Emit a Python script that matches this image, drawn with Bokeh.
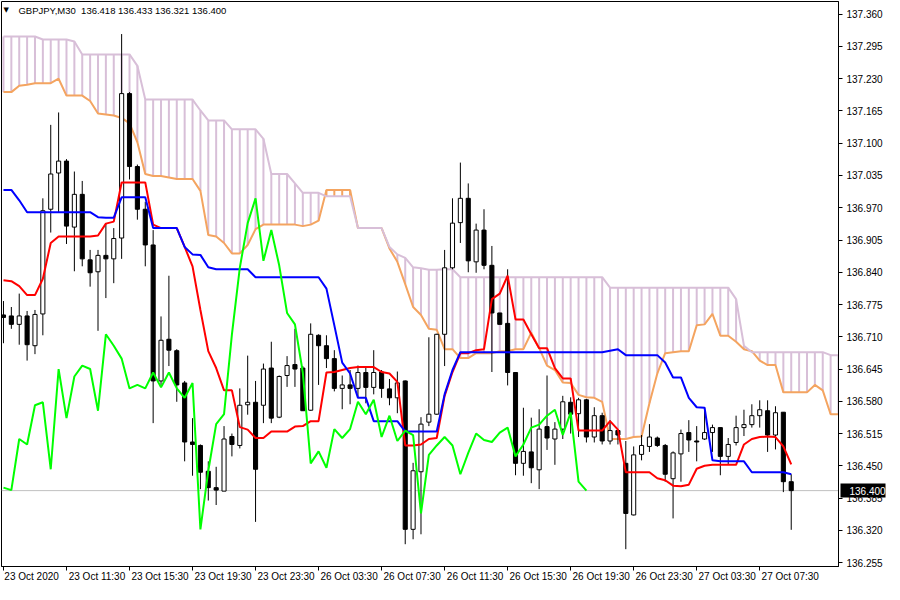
from bokeh.plotting import figure
from bokeh.models import (Range1d, LinearAxis, FixedTicker, Label, Span, ColumnDataSource,
                          PrintfTickFormatter, CustomJSTickFormatter)
from bokeh.embed import file_html
from bokeh.resources import INLINE

# ---------------- data (GBPJPY, M30) ----------------
open_ = [136.754, 136.752, 136.735, 136.752, 136.692, 136.756, 136.967, 137.040, 137.064, 136.931,
         136.997, 136.865, 136.841, 136.874, 136.867, 136.909, 137.200, 137.053, 136.967, 136.895,
         136.621, 136.705, 136.682, 136.617, 136.498, 136.491, 136.439, 136.406, 136.399, 136.509,
         136.491, 136.573, 136.578, 136.572, 136.647, 136.548, 136.632, 136.654, 136.647, 136.562,
         136.713, 136.692, 136.666, 136.606, 136.613, 136.606, 136.638, 136.608, 136.639, 136.605,
         136.587, 136.621, 136.322, 136.438, 136.538, 136.554, 136.715, 136.849, 136.940, 136.989,
         136.861, 136.925, 136.854, 136.758, 136.737, 136.638, 136.455, 136.478, 136.442, 136.529,
         136.504, 136.524, 136.578, 136.555, 136.583, 136.508, 136.551, 136.500, 136.521, 136.455,
         136.351, 136.473, 136.489, 136.506, 136.491, 136.424, 136.474, 136.517, 136.500, 136.504,
         136.517, 136.527, 136.469, 136.497, 136.527, 136.533, 136.551, 136.561, 136.512, 136.558,
         136.418]
high = [136.782, 136.770, 136.797, 136.762, 136.764, 136.989, 137.137, 137.162, 137.068, 137.043,
        137.024, 136.885, 136.885, 136.938, 136.929, 137.320, 137.203, 137.057, 136.982, 136.925,
        136.751, 136.833, 136.685, 136.621, 136.546, 136.493, 136.459, 136.448, 136.530, 136.515,
        136.606, 136.672, 136.621, 136.656, 136.700, 136.632, 136.671, 136.726, 136.651, 136.737,
        136.715, 136.713, 136.683, 136.632, 136.643, 136.652, 136.648, 136.683, 136.643, 136.625,
        136.640, 136.622, 136.456, 136.548, 136.709, 136.716, 136.885, 136.989, 137.061, 137.019,
        136.938, 136.967, 136.893, 136.758, 136.846, 136.638, 136.567, 136.547, 136.564, 136.632,
        136.538, 136.591, 136.588, 136.587, 136.585, 136.568, 136.557, 136.542, 136.523, 136.500,
        136.489, 136.512, 136.534, 136.509, 136.494, 136.479, 136.523, 136.542, 136.530, 136.568,
        136.533, 136.527, 136.506, 136.551, 136.563, 136.574, 136.582, 136.582, 136.570, 136.558,
        136.433]
low = [136.697, 136.726, 136.694, 136.662, 136.675, 136.713, 136.920, 136.961, 136.897, 136.842,
       136.852, 136.811, 136.722, 136.788, 136.818, 136.867, 137.027, 136.946, 136.852, 136.536,
       136.609, 136.651, 136.579, 136.459, 136.430, 136.403, 136.380, 136.371, 136.399, 136.469,
       136.485, 136.553, 136.337, 136.536, 136.536, 136.546, 136.609, 136.609, 136.561, 136.561,
       136.613, 136.647, 136.600, 136.564, 136.574, 136.587, 136.576, 136.594, 136.587, 136.572,
       136.556, 136.292, 136.302, 136.312, 136.530, 136.553, 136.651, 136.846, 136.899, 136.840,
       136.839, 136.846, 136.639, 136.735, 136.612, 136.431, 136.430, 136.415, 136.403, 136.482,
       136.452, 136.504, 136.515, 136.508, 136.497, 136.497, 136.493, 136.493, 136.493, 136.282,
       136.350, 136.461, 136.478, 136.488, 136.418, 136.344, 136.418, 136.478, 136.459, 136.502,
       136.478, 136.431, 136.452, 136.491, 136.510, 136.527, 136.527, 136.478, 136.483, 136.397,
       136.321]
close = [136.749, 136.735, 136.752, 136.694, 136.755, 136.964, 137.038, 137.064, 136.933, 136.997,
         136.867, 136.839, 136.874, 136.867, 136.908, 137.200, 137.053, 136.967, 136.895, 136.621,
         136.703, 136.683, 136.613, 136.498, 136.493, 136.437, 136.406, 136.401, 136.504, 136.493,
         136.572, 136.578, 136.443, 136.645, 136.546, 136.630, 136.652, 136.645, 136.561, 136.715,
         136.692, 136.666, 136.606, 136.613, 136.606, 136.638, 136.608, 136.638, 136.606, 136.587,
         136.617, 136.322, 136.440, 136.534, 136.554, 136.715, 136.849, 136.939, 136.989, 136.863,
         136.925, 136.854, 136.758, 136.735, 136.638, 136.455, 136.479, 136.446, 136.524, 136.506,
         136.524, 136.579, 136.554, 136.583, 136.508, 136.551, 136.500, 136.521, 136.512, 136.354,
         136.472, 136.491, 136.508, 136.491, 136.433, 136.476, 136.515, 136.502, 136.498, 136.517,
         136.527, 136.469, 136.493, 136.527, 136.533, 136.551, 136.563, 136.512, 136.557, 136.418,
         136.400]

tenkan = [136.824, 136.822, 136.812, 136.794, 136.794, 136.827, 136.899, 136.912, 136.912, 136.912,
          136.912, 136.912, 136.914, 136.938, 136.942, 137.021, 137.021, 137.021, 137.021, 136.936,
          136.929, 136.929, 136.929, 136.891, 136.852, 136.764, 136.681, 136.647, 136.602, 136.602,
          136.528, 136.523, 136.506, 136.506, 136.519, 136.519, 136.519, 136.529, 136.530, 136.540,
          136.540, 136.638, 136.639, 136.643, 136.647, 136.649, 136.649, 136.649, 136.639, 136.636,
          136.619, 136.491, 136.491, 136.493, 136.504, 136.506, 136.591, 136.639, 136.677, 136.677,
          136.683, 136.685, 136.786, 136.797, 136.833, 136.745, 136.745, 136.715, 136.687, 136.687,
          136.647, 136.626, 136.626, 136.521, 136.521, 136.521, 136.521, 136.540, 136.523, 136.437,
          136.437, 136.437, 136.437, 136.425, 136.421, 136.410, 136.409, 136.412, 136.444, 136.450,
          136.452, 136.452, 136.452, 136.452, 136.493, 136.504, 136.508, 136.509, 136.508, 136.489,
          136.453]
kijun = [137.006, 137.006, 136.985, 136.961, 136.961, 136.961, 136.961, 136.961, 136.961, 136.961,
         136.961, 136.961, 136.951, 136.950, 136.950, 136.991, 136.991, 136.991, 136.991, 136.929,
         136.929, 136.929, 136.929, 136.891, 136.876, 136.875, 136.850, 136.846, 136.846, 136.846,
         136.846, 136.846, 136.830, 136.830, 136.830, 136.830, 136.830, 136.830, 136.830, 136.830,
         136.830, 136.807, 136.733, 136.658, 136.636, 136.587, 136.587, 136.540, 136.540, 136.540,
         136.540, 136.519, 136.519, 136.519, 136.519, 136.519, 136.594, 136.643, 136.679, 136.679,
         136.679, 136.679, 136.679, 136.679, 136.679, 136.679, 136.679, 136.679, 136.679, 136.679,
         136.679, 136.679, 136.679, 136.679, 136.679, 136.679, 136.679, 136.682, 136.685, 136.673,
         136.673, 136.673, 136.673, 136.673, 136.658, 136.628, 136.628, 136.587, 136.568, 136.567,
         136.461, 136.459, 136.459, 136.459, 136.459, 136.437, 136.437, 136.437, 136.437, 136.437,
         136.433]
senkou_a = [137.203, 137.203, 137.216, 137.218, 137.221, 137.221, 137.221, 137.230, 137.196, 137.196,
            137.196, 137.185, 137.160, 137.158, 137.156, 137.151, 137.140, 137.102, 137.038, 137.034,
            137.034, 137.031, 137.028, 137.028, 137.028, 137.004, 136.915, 136.912, 136.899, 136.878,
            136.878, 136.895, 136.927, 136.936, 136.936, 136.936, 136.936, 136.936, 136.933, 136.936,
            136.944, 137.006, 137.006, 137.006, 137.006, 136.929, 136.929, 136.929, 136.929, 136.888,
            136.861, 136.816, 136.770, 136.754, 136.726, 136.724, 136.685, 136.685, 136.667, 136.667,
            136.677, 136.677, 136.677, 136.681, 136.681, 136.685, 136.685, 136.718, 136.687, 136.652,
            136.643, 136.618, 136.617, 136.593, 136.588, 136.587, 136.579, 136.504, 136.504, 136.504,
            136.508, 136.509, 136.576, 136.636, 136.677, 136.679, 136.681, 136.681, 136.733, 136.735,
            136.756, 136.712, 136.712, 136.700, 136.685, 136.681, 136.662, 136.653, 136.653, 136.598,
            136.598, 136.598, 136.598, 136.613, 136.602, 136.554, 136.554]
senkou_b = [137.315, 137.315, 137.315, 137.315, 137.315, 137.309, 137.309, 137.309, 137.309, 137.305,
            137.279, 137.279, 137.279, 137.279, 137.279, 137.279, 137.279, 137.256, 137.188, 137.188,
            137.188, 137.188, 137.188, 137.188, 137.188, 137.166, 137.146, 137.146, 137.146, 137.128,
            137.128, 137.128, 137.128, 137.109, 137.038, 137.038, 137.038, 137.019, 137.000, 137.000,
            137.000, 136.993, 136.993, 136.993, 136.993, 136.929, 136.929, 136.929, 136.929, 136.891,
            136.876, 136.869, 136.850, 136.848, 136.845, 136.845, 136.846, 136.846, 136.830, 136.830,
            136.830, 136.830, 136.830, 136.830, 136.830, 136.830, 136.830, 136.830, 136.830, 136.830,
            136.830, 136.830, 136.830, 136.830, 136.830, 136.830, 136.830, 136.809, 136.809, 136.809,
            136.809, 136.809, 136.809, 136.809, 136.809, 136.809, 136.809, 136.809, 136.809, 136.809,
            136.809, 136.809, 136.809, 136.786, 136.692, 136.679, 136.679, 136.679, 136.679, 136.679,
            136.679, 136.679, 136.679, 136.679, 136.679, 136.673, 136.673]
chikou_shift = 26  # Chikou span = close plotted 26 bars back

time_label_bars = [0, 8, 16, 24, 32, 40, 48, 56, 64, 72, 80, 88, 96]
time_labels = ["23 Oct 2020", "23 Oct 11:30", "23 Oct 15:30", "23 Oct 19:30", "23 Oct 23:30",
               "26 Oct 03:30", "26 Oct 07:30", "26 Oct 11:30", "26 Oct 15:30", "26 Oct 19:30",
               "26 Oct 23:30", "27 Oct 03:30", "27 Oct 07:30"]
price_ticks = [136.255, 136.320, 136.385, 136.450, 136.515, 136.580, 136.645, 136.710, 136.775,
               136.840, 136.905, 136.970, 137.035, 137.100, 137.165, 137.230, 137.295, 137.360]
last_price = 136.400
title_text = "GBPJPY,M30\u00a0 136.418 136.433 136.321 136.400"

FONT = "Liberation Sans"
FS = "10px"
FRAME_W = 837
X0, X1 = -0.25, 106.0
PX_PER_BAR = FRAME_W / (X1 - X0)

# ---------------- figure ----------------
p = figure(frame_width=FRAME_W, frame_height=565,
           x_range=Range1d(X0, X1), y_range=Range1d(136.2471, 137.3856),
           output_backend="svg", toolbar_location=None,
           x_axis_location=None, y_axis_location=None,
           min_border_left=1, min_border_top=1, min_border_right=46, min_border_bottom=18)
p.outline_line_color = "black"
p.outline_line_width = 1
p.background_fill_color = "white"
p.border_fill_color = "white"
p.grid.visible = False

# Ichimoku cloud hatch
bars_cloud = list(range(len(senkou_a)))
hatch_col = ["#F4A460" if a > b else "#D8BFD8" for a, b in zip(senkou_a, senkou_b)]
p.segment(x0=bars_cloud, y0=senkou_a, x1=bars_cloud, y1=senkou_b, line_color=hatch_col, line_width=2)
p.line(bars_cloud, senkou_a, line_color="#F4A460", line_width=2)
p.line(bars_cloud, senkou_b, line_color="#D8BFD8", line_width=2)

# last price line
p.add_layout(Span(location=last_price, dimension="width", line_color="#C0C0C0",
                  line_width=1, level="underlay"))

# candles
bars = list(range(len(close)))
bull = [c >= o for o, c in zip(open_, close)]
src = ColumnDataSource(dict(
    x=bars, o=open_, h=high, l=low, c=close,
    top=[max(o, c) for o, c in zip(open_, close)],
    bottom=[min(o, c) for o, c in zip(open_, close)],
    fill=["white" if b else "black" for b in bull]))
p.segment(x0="x", y0="l", x1="x", y1="h", source=src, line_color="black", line_width=1)
p.vbar(x="x", top="top", bottom="bottom", width=0.52, source=src,
       fill_color="fill", line_color="black", line_width=1)

# indicator lines
p.line(bars, tenkan, line_color="#FF0000", line_width=2)
p.line(bars, kijun, line_color="#0000FF", line_width=2)
chikou_x = bars[:len(close) - chikou_shift]
p.line(chikou_x, close[chikou_shift:], line_color="#00FF00", line_width=2)

# ---------------- axes ----------------
def style(ax):
    ax.axis_line_color = "black"
    ax.axis_line_width = 1
    ax.major_tick_line_color = "black"
    ax.major_tick_in = 0
    ax.major_tick_out = 4
    ax.minor_tick_line_color = None
    ax.major_label_text_font = FONT
    ax.major_label_text_font_size = FS
    ax.major_label_text_color = "black"

yaxis = LinearAxis(ticker=FixedTicker(ticks=price_ticks, minor_ticks=[]),
                   formatter=PrintfTickFormatter(format="%.3f"))
style(yaxis)
yaxis.major_label_standoff = 4
p.add_layout(yaxis, "right")

# current price tag: an outer price scale of ~zero width whose single thick tick points
# back in over the price scale (black box) and whose label is the white price text
tag_axis = LinearAxis(ticker=FixedTicker(ticks=[last_price], minor_ticks=[]),
                      formatter=PrintfTickFormatter(format="%.3f"))
tag_axis.axis_line_color = None
tag_axis.minor_tick_line_color = None
tag_axis.major_tick_line_color = "black"
tag_axis.major_tick_line_width = 14
tag_axis.major_tick_line_cap = "butt"
tag_axis.major_tick_in = 45
tag_axis.major_tick_out = 0
tag_axis.major_label_standoff = -36
tag_axis.major_label_text_font = FONT
tag_axis.major_label_text_font_size = FS
tag_axis.major_label_text_color = "white"
p.add_layout(tag_axis, "right")

# time axis: tick marks at the bars ...
xticks_axis = LinearAxis(ticker=FixedTicker(ticks=time_label_bars, minor_ticks=[]),
                         major_label_overrides={b: "" for b in time_label_bars})
style(xticks_axis)
xticks_axis.major_label_text_font_size = "1px"
xticks_axis.major_label_standoff = 0
p.add_layout(xticks_axis, "below")

# ... and labels that start just right of each tick (MT4 style)
label_pos = [b + (2 + 4.75 * len(t) / 2) / PX_PER_BAR for b, t in zip(time_label_bars, time_labels)]
xlabel_axis = LinearAxis(ticker=FixedTicker(ticks=label_pos, minor_ticks=[]),
                         formatter=CustomJSTickFormatter(args=dict(labels=time_labels),
                                                         code="return labels[index] || ''"))
style(xlabel_axis)
xlabel_axis.axis_line_color = None
xlabel_axis.major_tick_line_color = None
xlabel_axis.major_tick_out = 0
xlabel_axis.major_label_standoff = 0
p.add_layout(xlabel_axis, "below")

# chart title
p.add_layout(Label(x=0.0, y=137.368, text="\u25bc", text_baseline="middle", text_align="left",
                   text_font="DejaVu Sans", text_font_size="7px", text_color="black"))
p.add_layout(Label(x=1.9, y=137.368, text=title_text, text_baseline="middle", text_align="left",
                   text_font=FONT, text_font_size="9.5px", text_color="black"))

open("out.html", "w").write(file_html(p, INLINE))
